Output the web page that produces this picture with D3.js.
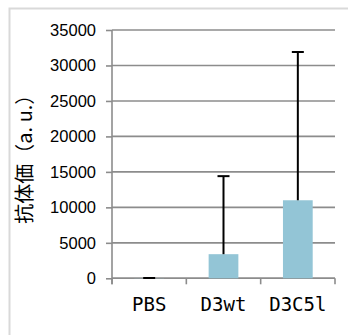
<!DOCTYPE html>
<html>
<head>
<meta charset="utf-8">
<script src="https://cdn.jsdelivr.net/npm/d3@7"></script>
<style>
  html, body { margin: 0; padding: 0; background: #fff; }
  svg { display: block; }
</style>
</head>
<body>
<svg id="chart" width="348" height="335"></svg>
<script>
// Antibody titer per group (mean, upper error)
const categories = ["PBS", "D3wt", "D3C5I"];
const means = [20, 3400, 11000];
const upperErrors = [20, 11000, 20900];
const yTicks = [0, 5000, 10000, 15000, 20000, 25000, 30000, 35000];
const yTitle = "抗体価（a. u.）";

const svg = d3.select("#chart");
const W = 348, H = 335;
const margin = { left: 112, right: 13, top: 30, bottom: 56.7 };

// outer frame
svg.append("rect")
  .attr("x", 9.5).attr("y", 8.5)
  .attr("width", W).attr("height", H)
  .attr("fill", "none")
  .attr("stroke", "#d9d9d9").attr("stroke-width", 2);

const x = d3.scaleBand()
  .domain(categories)
  .range([margin.left, W - margin.right])
  .paddingInner(0.6).paddingOuter(0.3);

const y = d3.scaleLinear()
  .domain([0, 35000])
  .range([H - margin.bottom, margin.top]);

// horizontal grid lines
svg.append("g")
  .selectAll("line")
  .data(yTicks)
  .join("line")
  .attr("x1", margin.left).attr("x2", W - margin.right)
  .attr("y1", d => y(d)).attr("y2", d => y(d))
  .attr("stroke", "#8c8c8c").attr("stroke-width", 1.6);

// y axis
const yAxis = svg.append("g")
  .attr("transform", `translate(${margin.left},0)`)
  .call(d3.axisLeft(y).tickValues(yTicks).tickSize(6).tickPadding(10).tickFormat(d3.format("d")));
yAxis.select(".domain").attr("stroke", "#8c8c8c").attr("stroke-width", 1.6)
  .attr("d", `M0,${y(0) + 6}V${margin.top}`);
yAxis.selectAll(".tick line").attr("stroke", "#8c8c8c").attr("stroke-width", 1.6);
yAxis.selectAll(".tick text")
  .attr("fill", "#000")
  .style("font-family", "'Liberation Sans', Arial, sans-serif")
  .style("font-size", "16.5px");

// x axis with boundary ticks between categories
const step = x.step();
const bounds = [0, 1, 2, 3].map(i => margin.left + i * (W - margin.right - margin.left) / 3);
svg.append("g")
  .selectAll("line")
  .data(bounds)
  .join("line")
  .attr("x1", d => d).attr("x2", d => d)
  .attr("y1", y(0)).attr("y2", y(0) + 6)
  .attr("stroke", "#8c8c8c").attr("stroke-width", 1.6);
svg.append("line")
  .attr("x1", margin.left).attr("x2", W - margin.right)
  .attr("y1", y(0)).attr("y2", y(0))
  .attr("stroke", "#8c8c8c").attr("stroke-width", 1.6);

svg.append("g")
  .selectAll("text")
  .data(categories)
  .join("text")
  .attr("x", d => x(d) + x.bandwidth() / 2)
  .attr("y", y(0) + 33)
  .attr("text-anchor", "middle")
  .style("font-family", "'DejaVu Sans Mono', monospace")
  .style("font-size", "19px")
  .attr("fill", "#000")
  .text(d => d === "D3C5I" ? "D3C5l" : d);

// bars
svg.append("g")
  .selectAll("rect")
  .data(categories)
  .join("rect")
  .attr("x", d => x(d))
  .attr("width", x.bandwidth())
  .attr("y", (d, i) => y(means[i]))
  .attr("height", (d, i) => y(0) - y(means[i]))
  .attr("fill", "#93c5d6");

// upper error bars
const err = svg.append("g").attr("stroke", "#000").attr("stroke-width", 2);
categories.forEach((c, i) => {
  const cx = x(c) + x.bandwidth() / 2;
  const top = y(means[i] + upperErrors[i]);
  err.append("line").attr("x1", cx).attr("x2", cx).attr("y1", y(means[i])).attr("y2", top);
  err.append("line").attr("x1", cx - 6).attr("x2", cx + 6).attr("y1", top).attr("y2", top);
});

// y title
svg.append("text")
  .attr("transform", `translate(32, ${(margin.top + y(0)) / 2}) rotate(-90)`)
  .attr("text-anchor", "middle")
  .style("font-family", "'Noto Sans CJK JP', sans-serif")
  .style("font-size", "20px")
  .attr("fill", "#000")
  .text(yTitle);
</script>
</body>
</html>
